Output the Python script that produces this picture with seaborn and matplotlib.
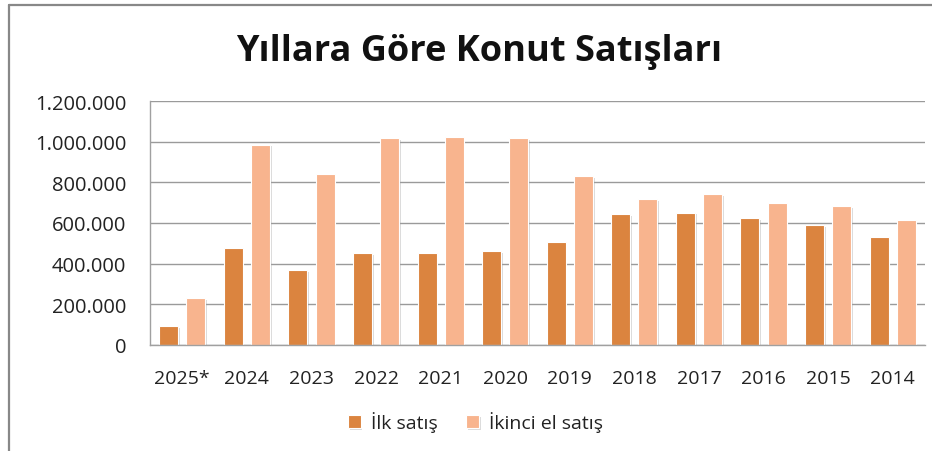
import matplotlib
matplotlib.use("Agg")
import matplotlib.pyplot as plt
import matplotlib.patheffects as pe
from matplotlib.lines import Line2D
from matplotlib.ticker import FuncFormatter
import seaborn as sns
import pandas as pd

years = ["2025*", "2024", "2023", "2022", "2021", "2020", "2019", "2018", "2017", "2016", "2015", "2014"]
ilk_satis = [93000, 477000, 369000, 451000, 452000, 461000, 505000, 644000, 651000, 623000, 590000, 531000]
ikinci_el = [230000, 985000, 839000, 1018000, 1023000, 1018000, 830000, 716000, 743000, 698000, 682000, 613000]
series_names = ["İlk satış", "İkinci el satış"]
colors = ["#DB843F", "#F8B48E"]
title = "Yıllara Göre Konut Satışları"
yticks = [0, 200000, 400000, 600000, 800000, 1000000, 1200000]

df = pd.DataFrame({
    "Yıl": years * 2,
    "Satış": ilk_satis + ikinci_el,
    "Tür": [series_names[0]] * len(years) + [series_names[1]] * len(years),
})

sns.set_theme(style="white")
plt.rcParams["font.family"] = ["Open Sans", "DejaVu Sans"]

fig = plt.figure(figsize=(9.32, 4.52), dpi=100)
ax = fig.add_axes([150 / 932, 1 - 346 / 452, 775 / 932, 244 / 452])

sns.barplot(data=df, x="Yıl", y="Satış", hue="Tür", order=years, hue_order=series_names,
            palette=colors, width=0.84, gap=0.3, ax=ax, edgecolor="white", linewidth=0.8,
            saturation=1)

for p in ax.patches:
    p.set_path_effects([pe.SimplePatchShadow(offset=(1.2, -1.2), shadow_rgbFace="#999999", alpha=0.35),
                        pe.Normal()])

ax.set_ylim(0, 1200000)
ax.set_xlim(-0.5, len(years) - 0.5)
ax.set_yticks(yticks)
ax.yaxis.set_major_formatter(FuncFormatter(lambda v, _: f"{int(v):,}".replace(",", ".")))
ax.grid(axis="y", color="#9a9a9a", linewidth=1.0)
ax.set_axisbelow(True)
for s in ["top", "right"]:
    ax.spines[s].set_visible(False)
for s in ["left", "bottom"]:
    ax.spines[s].set_color("#a0a0a0")
    ax.spines[s].set_linewidth(1.0)
ax.set_xlabel("")
ax.set_ylabel("")
ax.tick_params(axis="x", labelsize=14, colors="#222222", length=0, pad=17)
ax.tick_params(axis="y", labelsize=14.5, colors="#222222", length=0, pad=17)

ax.legend(loc="upper center", bbox_to_anchor=(0.42, -0.2), ncol=2, frameon=False,
          fontsize=14, handlelength=0.65, handleheight=0.65, handletextpad=0.5, columnspacing=1.5,
          labelcolor="#222222")

fig.text(0.5145, 0.884, title, ha="center", va="center", fontsize=26, fontweight="bold",
         color="#111111", family=["Open Sans", "DejaVu Sans"])

fig.add_artist(Line2D([9 / 932, 9 / 932], [0, 1 - 6 / 452], color="#888888", linewidth=1.6,
                      transform=fig.transFigure))
fig.add_artist(Line2D([9 / 932, 1], [1 - 6 / 452, 1 - 6 / 452], color="#888888", linewidth=1.6,
                      transform=fig.transFigure))

fig.savefig("out.png", dpi=100, facecolor="white")
